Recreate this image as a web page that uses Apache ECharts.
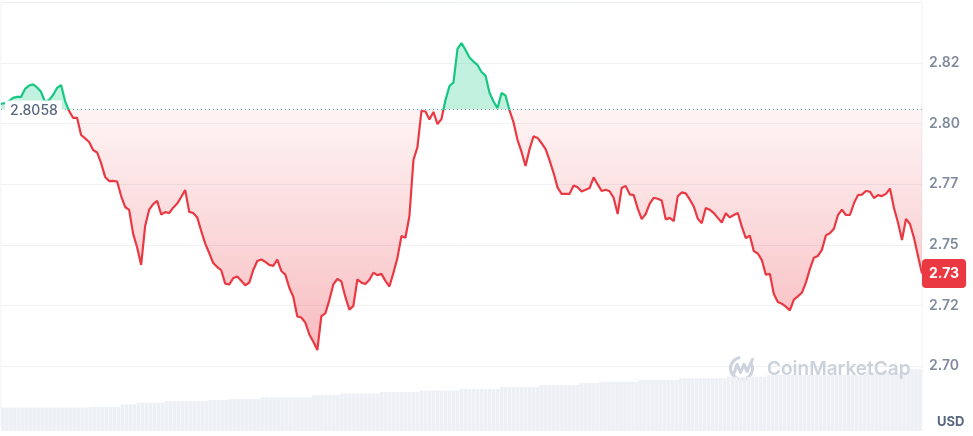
<!DOCTYPE html>
<html>
<head>
<meta charset="utf-8">
<script src="https://cdn.jsdelivr.net/npm/echarts@6/dist/echarts.min.js"></script>
<style>
  html, body { margin: 0; padding: 0; background: #fff; }
  #chart { width: 973px; height: 436px; }
</style>
</head>
<body>
<div id="chart"></div>
<script>
// price at open of the period, used as the reference line
var baseline = 2.8058;

// price, 231 samples across the day
var prices = [
  2.8081, 2.8085, 2.8093, 2.8106, 2.8110, 2.8110, 2.8143, 2.8157, 2.8162, 2.8149,
  2.8131, 2.8089, 2.8097, 2.8118, 2.8147, 2.8159, 2.8093, 2.8052, 2.8024, 2.8024,
  2.7953, 2.7939, 2.7924, 2.7891, 2.7881, 2.7837, 2.7780, 2.7763, 2.7764, 2.7761,
  2.7701, 2.7656, 2.7644, 2.7545, 2.7489, 2.7417, 2.7578, 2.7645, 2.7668, 2.7681,
  2.7625, 2.7635, 2.7631, 2.7653, 2.7670, 2.7697, 2.7726, 2.7636, 2.7631, 2.7613,
  2.7557, 2.7505, 2.7466, 2.7425, 2.7408, 2.7395, 2.7340, 2.7336, 2.7363, 2.7369,
  2.7352, 2.7333, 2.7344, 2.7396, 2.7433, 2.7439, 2.7430, 2.7417, 2.7413, 2.7439,
  2.7392, 2.7377, 2.7323, 2.7285, 2.7204, 2.7200, 2.7179, 2.7130, 2.7100, 2.7066,
  2.7206, 2.7217, 2.7272, 2.7337, 2.7359, 2.7349, 2.7285, 2.7232, 2.7248, 2.7357,
  2.7344, 2.7338, 2.7356, 2.7385, 2.7375, 2.7380, 2.7351, 2.7328, 2.7384, 2.7446,
  2.7536, 2.7529, 2.7619, 2.7850, 2.7903, 2.8052, 2.8050, 2.8017, 2.8048, 2.7998,
  2.8019, 2.8097, 2.8155, 2.8170, 2.8308, 2.8332, 2.8304, 2.8273, 2.8256, 2.8242,
  2.8213, 2.8198, 2.8127, 2.8091, 2.8064, 2.8126, 2.8116, 2.8054, 2.8005, 2.7932,
  2.7883, 2.7825, 2.7895, 2.7948, 2.7941, 2.7919, 2.7895, 2.7848, 2.7796, 2.7736,
  2.7710, 2.7710, 2.7710, 2.7745, 2.7737, 2.7720, 2.7727, 2.7734, 2.7778, 2.7749,
  2.7722, 2.7727, 2.7721, 2.7693, 2.7627, 2.7734, 2.7743, 2.7708, 2.7705, 2.7650,
  2.7606, 2.7627, 2.7670, 2.7694, 2.7690, 2.7683, 2.7605, 2.7611, 2.7598, 2.7700,
  2.7716, 2.7712, 2.7687, 2.7658, 2.7608, 2.7589, 2.7652, 2.7645, 2.7631, 2.7611,
  2.7592, 2.7630, 2.7613, 2.7623, 2.7631, 2.7575, 2.7528, 2.7538, 2.7474, 2.7464,
  2.7437, 2.7377, 2.7380, 2.7297, 2.7264, 2.7257, 2.7245, 2.7229, 2.7274, 2.7287,
  2.7302, 2.7344, 2.7400, 2.7447, 2.7454, 2.7479, 2.7539, 2.7548, 2.7566, 2.7622,
  2.7645, 2.7623, 2.7623, 2.7671, 2.7705, 2.7707, 2.7722, 2.7719, 2.7693, 2.7705,
  2.7701, 2.7710, 2.7732, 2.7652, 2.7592, 2.7520, 2.7607, 2.7586, 2.7528, 2.7454,
  2.7382
];

// volume bars (millions), same sampling as prices
var volumes = [
  233, 233, 233, 233, 233, 233, 233, 233, 233, 233, 233, 233, 233, 233, 233, 233, 233, 233, 233, 233, 233, 233,
  243, 243, 243, 243, 243, 243, 243, 243,
  267, 267, 267, 267,
  283, 283, 283, 283, 283, 283, 283,
  300, 300, 300, 300, 300, 300, 300, 300, 300, 300, 300,
  310, 310, 310, 310, 310,
  320, 320, 320, 320, 320, 320, 320, 320,
  337, 337, 337, 337, 337, 337, 337, 337, 337, 337, 337, 337, 337,
  360, 360, 360, 360, 360, 360, 360,
  375, 375, 375, 375, 375, 375, 375, 375, 375, 375,
  390, 390, 390, 390, 390, 390, 390, 390, 390, 390,
  405, 405, 405, 405, 405, 405, 405, 405, 405, 405,
  420, 420, 420, 420, 420, 420, 420, 420, 420, 420,
  440, 440, 440, 440, 440, 440, 440, 440, 440, 440,
  460, 460, 460, 460, 460, 460, 460, 460, 460, 460,
  480, 480, 480, 480, 480,
  493, 493, 493, 493, 493, 493, 493, 493, 493, 493,
  510, 510, 510, 510, 510, 510, 510, 510, 510, 510,
  527, 527, 527, 527, 527, 527, 527, 527, 527, 527, 527, 527,
  543, 543, 543, 543, 543, 543, 543, 543, 543, 543,
  560, 560, 560, 560, 560, 560, 560, 560, 560, 560, 560, 560, 560, 560, 560, 560, 560, 560, 560, 560, 560, 560, 560, 560, 560,
  587, 587, 587, 587, 587, 587, 587, 587, 587, 587, 587,
  617, 617, 617
];

var priceMin = 2.675;
var priceMax = 2.85;
var priceStep = 0.025;

var RED = '#ea3943';
var GREEN = '#16c784';

var slots = prices.map(function (p, i) { return i; });
var lastPrice = prices[prices.length - 1];

// cmc truncates instead of rounding
function fmt(v) {
  return (Math.floor(v * 100 + 1e-6) / 100).toFixed(2);
}

var chart = echarts.init(document.getElementById('chart'));

var option = {
  animation: false,
  textStyle: { fontFamily: 'Inter' },
  grid: [
    { left: 1, right: 51, top: 2.4, bottom: 9.4, show: true, borderColor: '#eff2f5', borderWidth: 1 },
    { left: 1, right: 51, bottom: 5, height: 100 }
  ],
  xAxis: [
    { type: 'category', gridIndex: 0, data: slots, boundaryGap: false, show: false },
    { type: 'category', gridIndex: 1, data: slots, boundaryGap: true, show: false }
  ],
  yAxis: [
    {
      type: 'value',
      gridIndex: 0,
      position: 'right',
      min: priceMin,
      max: priceMax,
      interval: priceStep,
      axisLine: { show: false },
      axisTick: { show: false },
      splitLine: { lineStyle: { color: '#eff2f5', width: 1 } },
      axisLabel: {
        margin: 7,
        color: '#808a9d',
        fontSize: 14,
        fontWeight: 600,
        showMinLabel: false,
        showMaxLabel: false,
        formatter: fmt
      },
      axisPointer: {
        show: true,
        value: lastPrice,
        status: 'show',
        snap: false,
        triggerTooltip: false,
        lineStyle: { opacity: 0 },
        label: {
          show: true,
          margin: 0,
          formatter: function (p) { return fmt(p.value); },
          backgroundColor: RED,
          color: '#fff',
          fontWeight: 'bold',
          fontSize: 14,
          padding: [8, 7, 7, 7],
          borderRadius: 4
        }
      }
    },
    { type: 'value', gridIndex: 1, min: 0, max: 1000, show: false }
  ],
  axisPointer: { triggerOn: 'none' },
  visualMap: [
    {
      // area: red deepening below the open, green above it
      type: 'continuous',
      show: false,
      seriesIndex: 0,
      dimension: 1,
      min: 2.70,
      max: 2.90,
      range: [2.70, baseline],
      inRange: {
        color: ['rgba(234,57,67,0.36)', 'rgba(234,57,67,0.21)', 'rgba(234,57,67,0.07)', 'rgba(234,57,67,0)', 'rgba(234,57,67,0)']
      },
      outOfRange: { color: 'rgba(22,199,132,0.26)' }
    },
    {
      type: 'piecewise',
      show: false,
      seriesIndex: 1,
      dimension: 1,
      pieces: [
        { gt: 2.0, lte: baseline, color: RED },
        { gt: baseline, lte: 4.0, color: GREEN }
      ]
    }
  ],
  series: [
    {
      name: 'fill',
      type: 'line',
      xAxisIndex: 0,
      yAxisIndex: 0,
      data: prices,
      showSymbol: false,
      silent: true,
      lineStyle: { width: 0 },
      areaStyle: { origin: baseline, opacity: 1 },
      z: 2
    },
    {
      name: 'Price',
      type: 'line',
      xAxisIndex: 0,
      yAxisIndex: 0,
      data: prices,
      showSymbol: false,
      lineStyle: { width: 2.2 },
      z: 4
    },
    {
      name: 'Volume',
      type: 'bar',
      xAxisIndex: 1,
      yAxisIndex: 1,
      data: volumes,
      barCategoryGap: '8%',
      itemStyle: { color: '#edf0f4' },
      silent: true,
      z: 1
    },
    {
      // dotted open-price line, kept out of the visualMaps so it stays grey
      name: 'open',
      type: 'line',
      xAxisIndex: 0,
      yAxisIndex: 0,
      data: [],
      z: 3,
      markLine: {
        silent: true,
        precision: 4,
        symbol: ['none', 'none'],
        label: { show: false },
        lineStyle: { type: [1, 3], color: '#8f97a8', width: 1 },
        data: [{ yAxis: baseline }]
      }
    }
  ]
};

chart.setOption(option);

var yBase = chart.convertToPixel({ yAxisIndex: 0 }, baseline);

chart.setOption({
  graphic: [
    {
      type: 'text',
      left: 5,
      top: yBase - 9,
      z: 20,
      style: {
        text: baseline.toFixed(4),
        fill: '#58667e',
        font: '500 14px Inter',
        backgroundColor: '#fff',
        padding: [3, 4, 3, 5]
      }
    },
    {
      type: 'text',
      left: 937,
      top: 416,
      style: { text: 'USD', fill: '#58667e', font: 'bold 13px Inter' }
    },
    {
      type: 'group',
      left: 728,
      top: 355,
      z: 15,
      children: [
        {
          type: 'arc',
          shape: { cx: 14.5, cy: 12, r: 11, startAngle: -0.45, endAngle: 4.6, clockwise: true },
          style: { stroke: '#cdd3de', lineWidth: 3, fill: null }
        },
        {
          type: 'polyline',
          shape: { points: [[7, 17], [10, 8], [13.5, 16], [17, 8], [20, 15], [25.5, 3]] },
          style: { stroke: '#cdd3de', lineWidth: 3, fill: null, lineJoin: 'round', lineCap: 'round' }
        }
      ]
    },
    {
      type: 'text',
      left: 767,
      top: 360,
      z: 15,
      style: { text: 'CoinMarketCap', fill: '#cbd2dc', font: '600 19px Inter' }
    }
  ]
});
</script>
</body>
</html>
